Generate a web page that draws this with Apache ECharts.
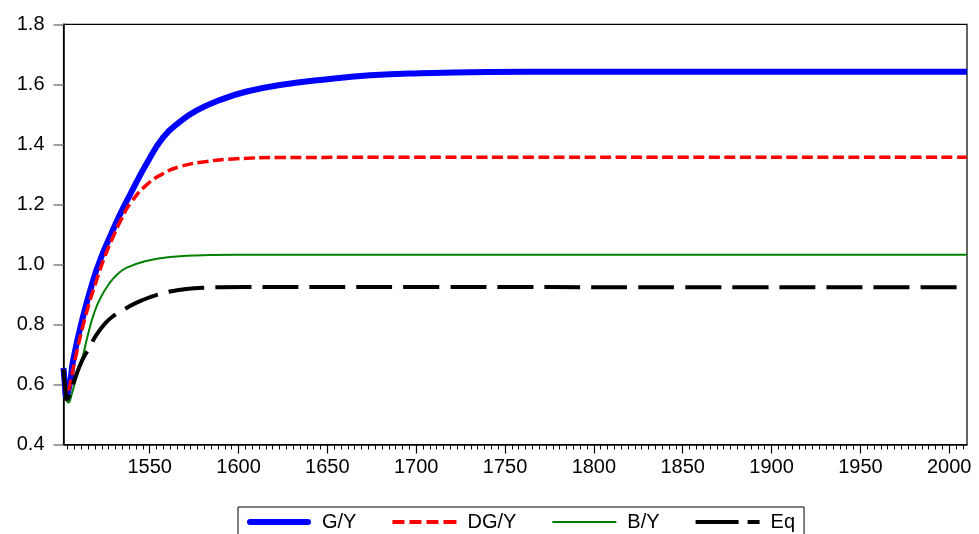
<!DOCTYPE html>
<html>
<head>
<meta charset="utf-8">
<script src="https://cdn.jsdelivr.net/npm/echarts@6/dist/echarts.min.js"></script>
<style>
html,body{margin:0;padding:0;background:#fff;}
#chart{width:979px;height:534px;}
</style>
</head>
<body>
<div id="chart"></div>
<script>
// ---- data ----
const seriesNames = ['G/Y', 'DG/Y', 'B/Y', 'Eq'];

const gyYears  = [1501.5, 1502.3, 1503, 1505, 1507, 1512, 1518.3, 1523, 1527.7, 1533, 1538.9, 1548.3, 1557.7, 1567.1, 1576.5, 1589.6, 1604.6, 1623.3, 1651.5, 1674, 1702, 1740, 1787, 1850, 1950, 2010];
const gyValues = [0.655, 0.600, 0.562, 0.600, 0.683, 0.815, 0.949, 1.028, 1.093, 1.163, 1.232, 1.336, 1.424, 1.476, 1.513, 1.548, 1.576, 1.598, 1.618, 1.630, 1.637, 1.641, 1.642, 1.642, 1.642, 1.642];

const dgyYears  = [1501.5, 1502.5, 1503.5, 1505.5, 1508, 1514, 1520.2, 1525, 1529.5, 1534, 1539.2, 1548.3, 1557.7, 1567.1, 1582.1, 1599, 1623.3, 1700, 1850, 2010];
const dgyValues = [0.650, 0.590, 0.565, 0.610, 0.683, 0.830, 0.949, 1.030, 1.093, 1.150, 1.204, 1.265, 1.303, 1.326, 1.343, 1.352, 1.356, 1.357, 1.357, 1.357];

const byYears  = [1501.5, 1502.5, 1503.5, 1504.3, 1506, 1509, 1512.6, 1515, 1518.3, 1522, 1527.7, 1532, 1537.1, 1546.4, 1561.4, 1583.9, 1612, 1750, 2010];
const byValues = [0.640, 0.575, 0.545, 0.540, 0.565, 0.630, 0.700, 0.760, 0.830, 0.885, 0.940, 0.968, 0.989, 1.009, 1.025, 1.031, 1.032, 1.032, 1.032];

const eqYears  = [1501.5, 1502.5, 1503.5, 1505, 1508, 1512, 1515.9, 1520, 1525.2, 1530, 1535.2, 1545.5, 1556.8, 1569.3, 1584.3, 1602.5, 1700, 1850, 2010];
const eqValues = [0.650, 0.585, 0.550, 0.565, 0.620, 0.680, 0.721, 0.765, 0.805, 0.830, 0.849, 0.880, 0.903, 0.917, 0.923, 0.925, 0.925, 0.924, 0.924];

const xLabels = [1550, 1600, 1650, 1700, 1750, 1800, 1850, 1900, 1950, 2000];
const xMin = 1501.5, xMax = 2010;
const yMin = 0.4, yMax = 1.8, yStep = 0.2;

// ---- presentation ----
const pairs = (xs, ys) => xs.map((x, i) => [x, ys[i]]);
const minorStep = 50 / 13;
const minorTicks = [];
for (let v = xLabels[0] - 12 * minorStep; v <= xMax + 1e-6; v += minorStep) {
  if (v >= xMin) minorTicks.push(+v.toFixed(4));
}
const FONT = 'Liberation Sans, Arial, sans-serif';
const icons = [
  'path://M3,0 H61 A3,3 0 0 1 61,6 H3 A3,3 0 0 1 3,0 Z',
  'path://M0,0h12v4h-12z M17,0h12v4h-12z M34,0h12v4h-12z M51,0h13v4h-13z',
  'path://M0,0h64v2h-64z',
  'path://M0,0h43v4h-43z M52,0h12v4h-12z'
];

const chart = echarts.init(document.getElementById('chart'), null, {renderer: 'canvas'});
chart.setOption({
  backgroundColor: '#fff',
  animation: false,
  grid: {left: 63.5, right: 12, top: 24.3, bottom: 89.5, show: true, borderColor: '#000', borderWidth: 1.2, backgroundColor: 'transparent'},
  xAxis: [{
    type: 'value', min: xMin, max: xMax,
    axisLine: {show: true, lineStyle: {color: '#000', width: 1.5}},
    axisTick: {show: true, customValues: xLabels, length: 9, lineStyle: {color: '#000', width: 1.2}},
    axisLabel: {customValues: xLabels, margin: 13, fontSize: 20, color: '#000', fontFamily: FONT, formatter: v => String(v)},
    splitLine: {show: false}
  }, {
    type: 'value', min: xMin, max: xMax, position: 'bottom',
    axisLine: {show: false},
    axisTick: {show: true, customValues: minorTicks, length: 5, lineStyle: {color: '#000', width: 1}},
    axisLabel: {show: false},
    splitLine: {show: false}
  }],
  yAxis: {
    type: 'value', min: yMin, max: yMax, interval: yStep,
    axisLine: {show: true, lineStyle: {color: '#000', width: 1.5}},
    axisTick: {show: true, length: 10, lineStyle: {color: '#808080', width: 1.5}},
    axisLabel: {margin: 19, fontSize: 20, color: '#000', fontFamily: FONT, formatter: v => v.toFixed(1)},
    splitLine: {show: false}
  },
  legend: {
    left: 238, top: 507,
    padding: [5, 9, 20, 9],
    borderColor: '#000', borderWidth: 1,
    itemWidth: 64, itemHeight: 14, itemGap: 36,
    textStyle: {fontSize: 20, color: '#000', fontFamily: FONT, padding: [0, 0, 0, 6]},
    data: seriesNames.map((n, i) => ({name: n, icon: icons[i]}))
  },
  series: [
    {name: seriesNames[0], type: 'line', data: pairs(gyYears, gyValues), showSymbol: false, symbol: 'none',
     smooth: 0.5, color: '#0000ff',
     lineStyle: {color: '#0000ff', width: 6}},
    {name: seriesNames[1], type: 'line', data: pairs(dgyYears, dgyValues), showSymbol: false, symbol: 'none',
     smooth: 0.5, color: '#ff0000',
     lineStyle: {color: '#ff0000', width: 3.5, type: [11, 4.5]}},
    {name: seriesNames[2], type: 'line', data: pairs(byYears, byValues), showSymbol: false, symbol: 'none',
     smooth: 0.5, color: '#008000',
     lineStyle: {color: '#008000', width: 2}},
    {name: seriesNames[3], type: 'line', data: pairs(eqYears, eqValues), showSymbol: false, symbol: 'none',
     smooth: 0.5, color: '#000000',
     lineStyle: {color: '#000000', width: 4, type: [36, 11]}}
  ]
});
</script>
</body>
</html>
